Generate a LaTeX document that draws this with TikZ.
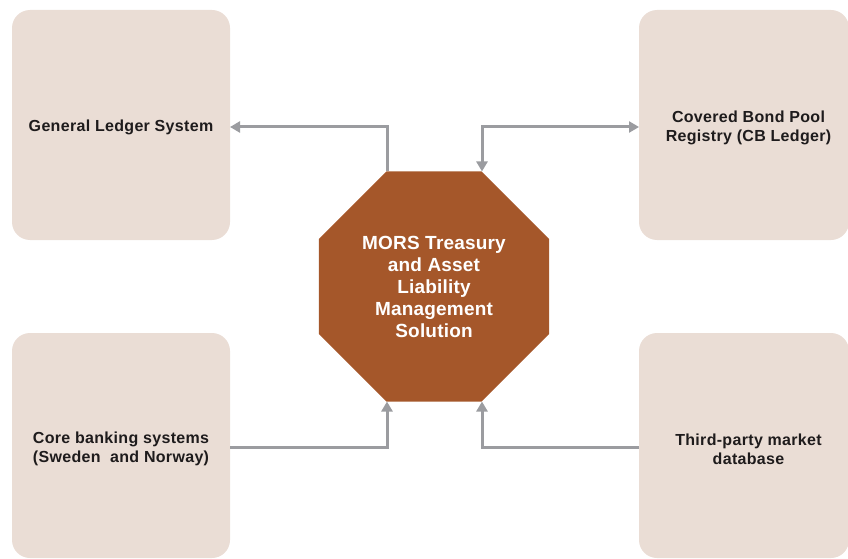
\documentclass[tikz,border=0pt]{standalone}
\usepackage{fontspec}
\newfontfamily\diagfont{Liberation Sans}[LetterSpace=2]
\newfontfamily\octfont{Liberation Sans}[LetterSpace=1]
\usetikzlibrary{arrows.meta,shapes.geometric}
\definecolor{boxfill}{RGB}{234,221,213}
\definecolor{octfill}{RGB}{165,87,42}
\definecolor{conncol}{RGB}{155,156,160}
\definecolor{txtcol}{RGB}{30,27,28}
\begin{document}
\begin{tikzpicture}[x=1pt,y=-1pt,
  srcbox/.style={rectangle,rounded corners=18pt,fill=boxfill,draw=none,
    minimum width=218pt,inner sep=0pt,outer sep=0pt,align=center,
    text=txtcol,font=\diagfont\bfseries\fontsize{16}{19}\selectfont},
  boxtext/.style={align=center,text=txtcol,inner sep=0pt,
    font=\diagfont\bfseries\fontsize{16}{19}\selectfont},
  octa/.style={regular polygon,regular polygon sides=8,fill=octfill,draw=none,
    minimum size=249pt,inner sep=0pt,outer sep=0pt},
  octtext/.style={align=center,text=white,inner sep=0pt,
    font=\octfont\bfseries\fontsize{19}{22}\selectfont},
  conn/.style={draw=conncol,line width=3pt,
    arrows={-Triangle[length=10pt,width=11pt]}},
  conn2/.style={draw=conncol,line width=3pt,
    arrows={Triangle[length=10pt,width=11pt]-Triangle[length=10pt,width=11pt]}}
]
\useasboundingbox (0,0) rectangle (848,559);
\clip (0,0) rectangle (848,559);
% boxes
\node[srcbox,minimum height=230pt] (gl) at (121,125) {};
\node[boxtext] (glt) at (121,127) {General Ledger System};
\node[srcbox,minimum width=210pt,minimum height=230pt] (cb) at (744,125) {};
\node[boxtext] (cbt) at (748.5,127.5) {Covered Bond Pool\\Registry (CB Ledger)};
\node[srcbox,minimum height=225pt] (core) at (121,445.5) {};
\node[boxtext] (coret) at (121,449) {Core banking systems\\(Sweden\ \ and Norway)};
\node[srcbox,minimum width=210pt,minimum height=225pt] (third) at (744,445.5) {};
\node[boxtext] (thirdt) at (748.5,449) {Third-party market\\database};
% central octagon
\node[octa] (mors) at (434,286.5) {};
\node[octtext] (morst) at (434,287) {MORS Treasury\\and Asset\\Liability\\Management\\Solution};
% junction points
\coordinate (ja) at (387,127);
\coordinate (jb) at (482,127);
\coordinate (ka) at (387,447);
\coordinate (kb) at (482,447);
% connectors
\draw[conn] (mors.north -| ja) -- (ja) -- (ja -| gl.east);
\draw[conn2] (jb -| cb.west) -- (jb) -- (mors.north -| jb);
\draw[conn] (ka -| core.east) -- (ka) -- (mors.south -| ka);
\draw[conn] (kb -| third.west) -- (kb) -- (mors.south -| kb);
\end{tikzpicture}
\end{document}
